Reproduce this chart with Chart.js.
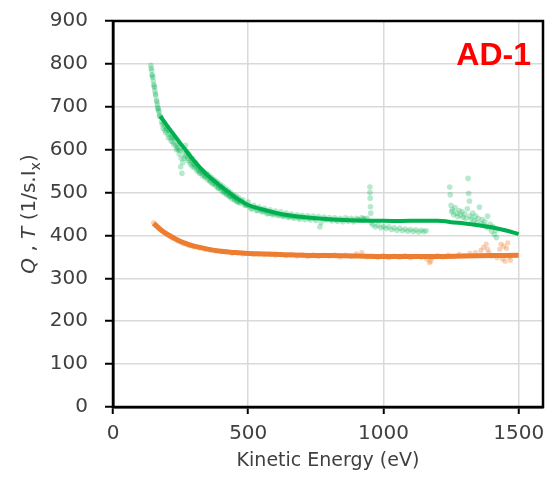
<!DOCTYPE html>
<html>
<head>
<meta charset="utf-8">
<script src="https://cdn.jsdelivr.net/npm/chart.js@4"></script>
<style>
  body { margin: 0; background: #fff; }
  #wrap { width: 550px; height: 482px; }
</style>
</head>
<body>
<div id="wrap"><canvas id="chartCanvas" width="550" height="482"></canvas></div>
<script>
  // ticks
  const xTicks = [0, 500, 1000, 1500];

  // green scatter (Q) - energy / value
  const greenDotsE = [140,143,146,149,152,155,158,161,164,167,170,173,
    141,144,147,151,154,157,162,165,168,172,
    180,185,190,195,200,205,210,215,220,225,230,235,240,245,250,252,255,258,260,265,268,270,275,280,285,290,295,
    178,182,188,192,198,203,208,212,218,222,228,232,238,242,248,262,272,278,282,288,292,298,
    300,305,310,315,320,325,330,335,340,345,350,355,360,365,370,375,380,385,390,395,400,405,410,415,420,425,430,435,440,445,
    302,308,312,318,322,328,332,338,342,348,352,358,362,368,372,378,382,388,392,398,402,408,412,418,422,428,432,438,442,448,
    450,455,460,465,470,480,490,500,510,520,530,540,550,560,570,580,590,600,610,620,630,640,650,660,670,680,690,
    452,458,462,468,475,485,495,505,515,525,535,545,555,565,575,585,595,605,615,625,635,645,655,665,675,685,695,
    700,710,720,730,740,750,760,770,780,790,800,810,820,830,840,850,860,870,880,890,900,910,920,930,940,
    705,725,745,765,785,805,825,845,865,885,905,925,
    950,950,951,952,953,955,960,970,980,990,1000,1010,1020,1030,1040,1050,1060,1070,1080,1090,1100,1110,1120,1130,1140,1150,1158,
    1245,1247,1250,1252,1255,1260,1265,1270,1275,1280,1285,1290,1295,1300,1305,1310,1313,1315,1318,1320,1325,1330,1335,1340,
    1345,1350,1355,1360,1365,1370,1375,1380,1385,1390,1395,1400,1405,1410,1415,1418];
  const greenDotsV = [797,785,772,760,748,737,726,715,705,696,688,680,
    790,775,768,752,745,730,712,698,692,678,
    665,650,655,640,648,628,640,620,628,612,625,600,612,590,560,580,545,570,600,590,610,585,580,590,570,575,560,
    675,660,662,645,650,636,645,628,632,618,630,610,605,600,598,580,595,575,585,565,580,568,
    565,570,550,560,545,555,540,548,535,545,530,540,525,535,520,530,515,525,510,520,505,515,500,510,495,505,490,500,485,495,
    558,562,555,552,548,545,550,540,538,542,535,528,532,522,528,520,522,512,515,510,512,502,505,498,500,495,492,490,492,486,
    482,492,478,488,475,483,470,478,462,470,458,466,455,463,450,460,448,457,446,455,444,452,442,450,440,448,438,
    488,480,483,478,480,472,470,468,463,465,458,460,456,455,452,452,450,450,448,446,447,444,445,443,444,442,443,
    447,437,446,436,445,435,444,430,443,436,442,434,441,433,440,432,441,433,440,432,440,436,442,438,440,
    442,440,440,420,438,437,436,436,437,436,437,439,
    513,500,487,467,452,430,425,420,424,418,421,416,420,414,418,412,417,411,415,410,414,409,413,408,412,409,411,
    513,495,470,455,460,448,465,452,444,458,447,455,442,450,440,462,533,498,480,445,438,452,434,445,
    430,440,466,428,437,424,432,420,445,418,426,410,420,402,412,395];

  // green fitted line
  const greenLineE = [175,200,225,250,275,300,325,350,375,400,425,450,475,500,550,600,650,700,800,900,1000,1100,1200,1230,1250,1300,1350,1400,1450,1500];
  const greenLineV = [678,656,635,614,594,574,556,540,527,514,502,490,480,471,461,453,447,443,438,435,434,434,434,433,431,428,424,419,412,403];

  // orange scatter (T)
  const orangeDotsE = [150,160,170,180,190,200,210,220,230,240,250,260,270,280,290,300,320,340,360,380,400,420,440,460,480,
    500,520,540,560,580,600,620,640,660,680,700,720,740,760,780,800,820,840,860,880,900,920,940,960,980,
    1000,1020,1040,1060,1080,1100,1120,1140,1160,1170,1175,1180,1200,1220,1240,1260,1280,1300,1320,1340,1360,1370,1380,1385,1390,
    1400,1420,1430,1435,1440,1445,1450,1455,1460,1465,1470];
  const orangeDotsV = [430,424,418,412,407,402,399,394,392,387,385,381,380,377,376,373,371,368,366,364,362,362,359,360,357,
    358,356,357,355,357,354,356,353,356,352,355,351,355,351,354,352,355,350,354,351,357,360,350,352,349,
    353,348,352,349,353,348,352,349,345,337,340,348,353,350,354,351,356,353,358,360,365,372,380,368,360,
    352,348,368,380,345,375,340,370,383,350,342];

  // orange fitted line
  const orangeLineE = [150,175,200,225,250,275,300,350,400,450,500,600,700,800,900,1000,1100,1200,1300,1400,1500];
  const orangeLineV = [428,414,403,394,386,380,375,368,363,360,358,356,354,353,352,351,351,351,352,353,354];

  const pts = (xs, ys) => xs.map((x, i) => ({ x: x, y: ys[i] }));

  const textPlugin = {
    id: 'texts',
    afterDraw(chart) {
      const ctx = chart.ctx;
      const a = chart.chartArea;
      ctx.save();
      ctx.strokeStyle = '#000';
      ctx.lineWidth = 2.5;
      ctx.strokeRect(a.left, a.top, a.right - a.left, a.bottom - a.top);

      ctx.fillStyle = '#ff0000';
      ctx.font = 'bold 32px "Liberation Sans"';
      ctx.textAlign = 'right';
      ctx.textBaseline = 'alphabetic';
      ctx.fillText('AD-1', 531, 65);

      ctx.fillStyle = '#404040';
      ctx.font = '19px "DejaVu Sans"';
      ctx.textAlign = 'center';
      ctx.fillText('Kinetic Energy (eV)', (a.left + a.right) / 2, 466);

      // y title, rotated
      const parts = [
        ['Q', 'italic 20px "DejaVu Sans"', 0],
        [' , ', '20px "DejaVu Sans"', 0],
        ['T', 'italic 20px "DejaVu Sans"', 0],
        [' (1/s.I', '20px "DejaVu Sans"', 0],
        ['x', '14px "DejaVu Sans"', 5],
        [')', '20px "DejaVu Sans"', 0]
      ];
      ctx.translate(35, 214);
      ctx.rotate(-Math.PI / 2);
      ctx.textAlign = 'left';
      let total = 0;
      parts.forEach(p => { ctx.font = p[1]; total += ctx.measureText(p[0]).width; });
      let x = -total / 2;
      parts.forEach(p => {
        ctx.font = p[1];
        ctx.fillText(p[0], x, p[2]);
        x += ctx.measureText(p[0]).width;
      });
      ctx.restore();
    }
  };

  const ctx = document.getElementById('chartCanvas').getContext('2d');
  const chart = new Chart(ctx, {
    type: 'scatter',
    data: {
      datasets: [
        { data: pts(greenDotsE, greenDotsV), backgroundColor: 'rgba(0,176,80,0.28)', borderWidth: 0, pointRadius: 2.8 },
        { data: pts(orangeDotsE, orangeDotsV), backgroundColor: 'rgba(237,125,49,0.35)', borderWidth: 0, pointRadius: 2.6 },
        { data: pts(greenLineE, greenLineV), showLine: true, borderColor: '#00b050', borderWidth: 4, pointRadius: 0, tension: 0.4 },
        { data: pts(orangeLineE, orangeLineV), showLine: true, borderColor: '#ed7d31', borderWidth: 5, pointRadius: 0, tension: 0.4 }
      ]
    },
    options: {
      responsive: false,
      animation: false,
      layout: { padding: { top: 21, right: 7, left: 0, bottom: 0 } },
      plugins: { legend: { display: false }, tooltip: { enabled: false } },
      scales: {
        x: {
          type: 'linear', min: 0, max: 1590,
          afterBuildTicks: s => { s.ticks = xTicks.map(v => ({ value: v })); },
          afterFit: s => { s.height = 75; s.paddingLeft = 0; s.paddingRight = 0; },
          grid: { color: '#d9d9d9', lineWidth: 1.5, tickColor: '#000', tickLength: 7, tickWidth: 2 },
          border: { color: '#000', width: 2.5 },
          ticks: { color: '#404040', font: { family: 'DejaVu Sans', size: 20 }, padding: 8, maxRotation: 0,
                   callback: v => String(v) }
        },
        y: {
          min: 0, max: 900,
          afterFit: s => { s.width = 113; s.paddingTop = 0; s.paddingBottom = 0; },
          grid: { color: '#d9d9d9', lineWidth: 1.5, tickColor: '#000', tickLength: 8, tickWidth: 2 },
          border: { color: '#000', width: 2.5 },
          ticks: { stepSize: 100, color: '#404040', font: { family: 'DejaVu Sans', size: 20 }, padding: 17 }
        }
      }
    },
    plugins: [textPlugin]
  });
</script>
</body>
</html>
